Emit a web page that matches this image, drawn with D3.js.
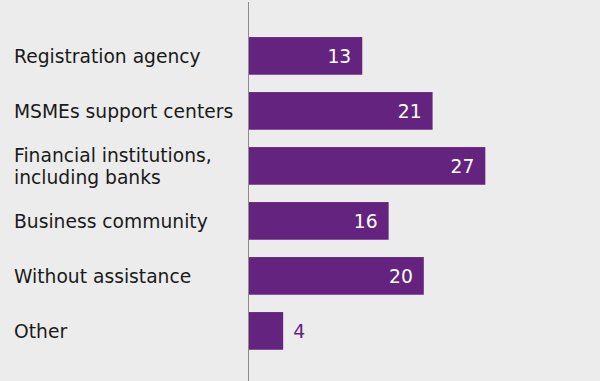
<!DOCTYPE html>
<html>
<head>
<meta charset="utf-8">
<script src="https://cdn.jsdelivr.net/npm/d3@7"></script>
<style>
  html, body { margin: 0; padding: 0; background: #ececec; }
  svg { display: block; }
  text { font-family: "DejaVu Sans", sans-serif; }
</style>
</head>
<body>
<svg id="chart" width="600" height="381"></svg>
<script>
// Share of respondents by source of assistance
const categories = [
  ["Registration agency"],
  ["MSMEs support centers"],
  ["Financial institutions,", "including banks"],
  ["Business community"],
  ["Without assistance"],
  ["Other"]
];
const values = [13, 21, 27, 16, 20, 4];

const width = 600, height = 381;
const purple = "#652380";
const fontSize = 18.7;
const svg = d3.select("#chart");

svg.append("rect").attr("width", width).attr("height", height).attr("fill", "#ececec");

const x = d3.scaleLinear().domain([0, 30]).range([248, 248 + 30 * 8.79]);
const y = d3.scaleBand()
  .domain(d3.range(categories.length))
  .range([28.4, 358.4])
  .paddingInner(0.315)
  .paddingOuter(0.1575);

// Bars
svg.selectAll("rect.bar")
  .data(values)
  .join("rect")
  .attr("class", "bar")
  .attr("x", x(0))
  .attr("y", (d, i) => y(i))
  .attr("width", d => x(d) - x(0))
  .attr("height", y.bandwidth())
  .attr("fill", purple);

// Value labels: inside the bar when wide enough, otherwise just after it
const inside = d => x(d) - x(0) > 50;
svg.selectAll("text.value")
  .data(values)
  .join("text")
  .attr("class", "value")
  .attr("x", d => (inside(d) ? x(d) - 11 : x(d) + 10))
  .attr("y", (d, i) => y(i) + y.bandwidth() / 2)
  .attr("dy", "0.37em")
  .attr("text-anchor", d => (inside(d) ? "end" : "start"))
  .attr("fill", d => (inside(d) ? "#ffffff" : purple))
  .attr("font-size", fontSize)
  .text(d => d);

// Category labels (multi-line where needed)
const lineGap = 22.5;
const labels = svg.selectAll("text.cat")
  .data(categories)
  .join("text")
  .attr("class", "cat")
  .attr("y", (d, i) => y(i) + y.bandwidth() / 2 - (d.length - 1) * lineGap / 2)
  .attr("font-size", fontSize)
  .attr("fill", "#1a1a1a");
labels.selectAll("tspan")
  .data(d => d)
  .join("tspan")
  .attr("x", 14)
  .attr("dy", (d, i) => (i === 0 ? "0.37em" : lineGap))
  .text(d => d);

// Vertical axis line
svg.append("line")
  .attr("x1", x(0) + 0.5).attr("x2", x(0) + 0.5)
  .attr("y1", 2).attr("y2", height)
  .attr("stroke", "#8c8c8c")
  .attr("stroke-width", 1);
</script>
</body>
</html>
